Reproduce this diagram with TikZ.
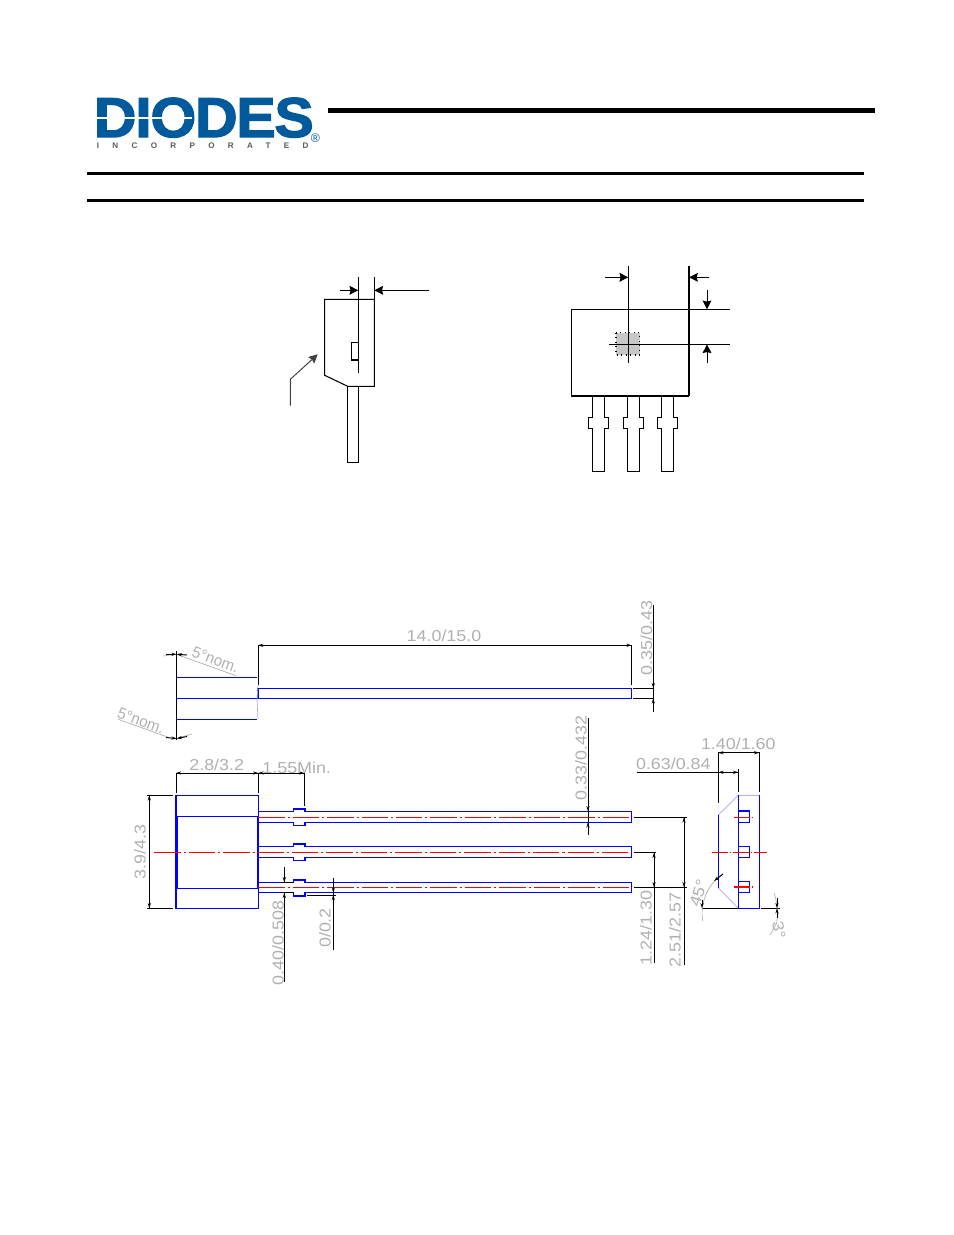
\documentclass[tikz,border=0pt]{standalone}
\usepackage{fontspec}
\setmainfont{Liberation Sans}
\newfontfamily\logofont{Liberation Sans}[BoldFeatures={FakeBold=2.2,LetterSpace=-2.2}]
\usetikzlibrary{arrows.meta}
\definecolor{logoblue}{HTML}{005A9C}
\definecolor{dimgray}{HTML}{B0B0B0}
\definecolor{chamfer}{HTML}{B4B4F0}
\tikzset{
  part/.style={draw=black,line width=0.6pt},
  big/.style={line width=0.55pt,-{Stealth[length=5pt,width=5pt,inset=0.6pt]}},
  wire/.style={blue,line width=0.6pt},
  axis/.style={red,line width=0.6pt,dash pattern=on 15pt off 1.7pt on 1.2pt off 1.7pt},
  shortaxis/.style={axis,dash pattern=on 9pt off 1pt on 1pt off 1pt},
  dimline/.style={black,line width=0.55pt},
  dimtip/.style={black,line width=0.55pt,-{Stealth[length=3pt,width=1.8pt]}},
  note/.style={dimgray,line width=0.4pt},
  dimtext/.style={text=dimgray,font=\fontsize{9}{9}\selectfont,inner sep=0pt,xscale=1.13},
}
\begin{document}
\begin{tikzpicture}[x=0.02cm,y=-0.02cm,line join=miter]
\useasboundingbox (0,0) rectangle (954,1235);
% header
\node[text=logoblue,font=\fontsize{32}{32}\selectfont\logofont\bfseries,inner sep=0pt,anchor=base west,xscale=1.05] (logo) at (93.5,137) {DIODES};
\fill[white] (96,117.3) rectangle (192,119.2);
\node[text=black!65,font=\fontsize{4.6}{4.6}\selectfont\bfseries\addfontfeature{LetterSpace=165},inner sep=0pt,anchor=base west] (sub) at (96.5,148) {INCORPORATED};
\node[text=logoblue,font=\fontsize{7}{7}\selectfont,inner sep=0pt] (reg) at (315.5,138.5) {®};
\draw[line width=2.9pt] (328,110.5)--(875,110.5);
\draw[line width=1.7pt] (87,173.5)--(864,173.5);
\draw[line width=1.7pt] (87,200)--(864,200);
% side view
\draw[part] (324.7,299.3)--(374.3,299.3)--(374.3,386.3)--(347.7,386.3)--(324.7,375.3)--cycle;
\draw[part] (347.7,386.3) rectangle (358.3,462.3);
\draw[part] (351.3,342.7) rectangle (358.3,360);
\draw[part] (358.3,276.7)--(358.3,373.3);
\draw[part] (374.3,276.7)--(374.3,299.3);
\draw[big] (340,290.3)--(358.3,290.3);
\draw[big] (429,290.3)--(374.3,290.3);
\draw[big,black!75] (290.3,405.7)--(290.3,379.3)--(317.7,354.3);
% marking view
\fill[black!22] (616,332.7) rectangle (639.7,355);
\draw[line width=0.6pt,dotted] (616,332.7) rectangle (639.7,355);
\draw[part] (571.3,309.3) rectangle (689,395.7);
\draw[line width=1.2pt] (571.3,395.7)--(689,395.7);
\foreach \lx in {592.3,627.3,661.3}
  \draw[part] (\lx,395.7)--(\lx,417.3)--(\lx-4,417.3)--(\lx-4,428.7)--(\lx,428.7)--(\lx,471.3)
    --(\lx+12,471.3)--(\lx+12,428.7)--(\lx+16.3,428.7)--(\lx+16.3,417.3)--(\lx+12,417.3)--(\lx+12,395.7);
\draw[part] (628.3,266)--(628.3,363.3);
\draw[part] (689,266)--(689,309.3)--(730,309.3);
\draw[part] (609.3,344.3)--(730,344.3);
\draw[big] (605,277.3)--(628.3,277.3);
\draw[big] (709,277.3)--(689,277.3);
\draw[big] (707,290)--(707,309.3);
\draw[big] (707,363.3)--(707,344.3);
% top view
\draw[wire] (176.7,677.3)--(256.7,677.3) (176.7,698.3)--(258,698.3) (176.7,719.3)--(256.7,719.3);
\draw[wire] (258,688.3) rectangle (631.7,698.3);
\draw[note] (258,685)--(257,700)--(258,719);
\draw[dimline] (176.7,651)--(176.7,740);
\draw[dimline] (258,685)--(258,645.3)--(631.7,645.3)--(631.7,685);
\draw[dimtip] (270,645.3)--(258,645.3);
\draw[dimtip] (620,645.3)--(631.7,645.3);
\draw[note] (163.3,656)--(175,654.3) (178.3,655)--(236,675.7) (118.3,719.3)--(168.3,737.3) (178,738)--(192,734);
\draw[dimtip] (166,654.3)--(176.7,654.3);
\draw[dimtip] (187,655)--(176.7,654.3);
\draw[dimtip] (166,737.5)--(176.7,738.5);
\draw[dimtip] (187,736.5)--(176.7,738.5);
\node[rotate=-20,dimtext,xscale=0.85] at (215.5,660) {5°nom.};
\node[rotate=-20,dimtext,xscale=0.85] at (141,721) {5°nom.};
\node[dimtext] at (444,636) {14.0/15.0};
\draw[dimline] (653.3,605)--(653.3,711.7);
\draw[dimline] (633.3,688.3)--(654,688.3) (633.3,698.3)--(654,698.3);
\draw[dimtip] (653.3,680)--(653.3,688.3);
\draw[dimtip] (653.3,706)--(653.3,698.3);
\node[rotate=90,dimtext] at (646.5,638) {0.35/0.43};
% main view
\draw[wire] (176,795.3) rectangle (258.3,908.3);
\draw[wire,line width=0.9pt] (177.3,816.3) rectangle (257.7,888.3);
\foreach \ly/\lw in {811.3/11,846.3/11,882.3/10.4}
  \draw[wire] (258.3,\ly)--(293.7,\ly)--(293.7,\ly-2.3)--(305,\ly-2.3)--(305,\ly)--(631.7,\ly)--(631.7,\ly+\lw)
    --(305,\ly+\lw)--(305,\ly+\lw+3.3)--(293.7,\ly+\lw+3.3)--(293.7,\ly+\lw)--(258.3,\ly+\lw);
\draw[axis] (258.3,817.7)--(631.7,817.7);
\draw[axis] (154.3,852.3)--(631.7,852.3);
\draw[axis] (258.3,887.3)--(631.7,887.3);
% main view dimensions
\draw[dimline] (176,792.7)--(176,773)--(304.3,773)--(304.3,806);
\draw[dimline] (258.3,773)--(258.3,793);
\draw[dimtip] (186,773)--(176,773);
\draw[dimtip] (248,773)--(258.3,773);
\draw[dimtip] (268,773)--(258.3,773);
\draw[dimtip] (294,773)--(304.3,773);
\node[dimtext] at (216.7,764.5) {2.8/3.2};
\node[dimtext] at (296.7,768) {1.55Min.};
\draw[dimline] (173.3,795.3)--(146.7,795.3) (173.3,908.3)--(146.7,908.3);
\draw[dimline] (149.3,795.3)--(149.3,908.3);
\draw[dimtip] (149.3,806)--(149.3,795.3);
\draw[dimtip] (149.3,898)--(149.3,908.3);
\node[rotate=90,dimtext] at (140,851.7) {3.9/4.3};
\draw[dimline] (284.3,867.3)--(284.3,882.3) (284.3,892.7)--(284.3,981.7);
\draw[dimline] (281,882.3)--(293.7,882.3) (281,892.7)--(293.7,892.7);
\draw[dimtip] (284.3,875)--(284.3,882.3);
\draw[dimtip] (284.3,900)--(284.3,892.7);
\node[rotate=90,dimtext] at (278,943) {0.40/0.508};
\draw[dimline] (333.3,878)--(333.3,950);
\draw[dimline] (306.7,895)--(336,895);
\draw[dimtip] (333.3,886)--(333.3,892.7);
\draw[dimtip] (333.3,902)--(333.3,895);
\node[rotate=90,dimtext] at (325,928) {0/0.2};
\draw[dimline] (588,718)--(588,835);
\draw[dimtip] (588,803)--(588,811.3);
\draw[dimtip] (588,830)--(588,822.3);
\node[rotate=90,dimtext] at (581,758) {0.33/0.432};
\draw[dimline] (634,852.7)--(656,852.7) (634,887.3)--(686.7,887.3) (634,817.3)--(686.7,817.3);
\draw[dimline] (654,852.7)--(654,963.3);
\draw[dimline] (684,817.3)--(684,965);
\draw[dimtip] (654,862)--(654,852.7);
\draw[dimtip] (654,878)--(654,887.3);
\draw[dimtip] (684,827)--(684,817.3);
\draw[dimtip] (684,878)--(684,887.3);
\node[rotate=90,dimtext] at (646,928) {1.24/1.30};
\node[rotate=90,dimtext] at (675,930) {2.51/2.57};
% section view
\draw[chamfer,line width=0.5pt] (718.3,815)--(738.3,795.3)--(759.3,795.3) (718.3,887.7)--(738.3,908.3);
\draw[wire] (718.3,815)--(718.3,887.7);
\draw[wire] (738.3,795.3)--(738.3,908.3)--(759.3,908.3)--(759.3,795.3);
\foreach \py in {811,846.3,881.7}
  \draw[wire] (738.3,\py)--(749.3,\py)--(749.3,\py+11.2)--(738.3,\py+11.2);
\draw[shortaxis] (734,817.3)--(754.3,817.3);
\draw[axis,dash pattern=on 9pt off 1pt on 1pt off 1pt] (712,852.7)--(766.7,852.7);
\draw[shortaxis] (734,887)--(751.7,887);
\draw[dimline] (718.3,803)--(718.3,752.7)--(759.3,752.7)--(759.3,791.7);
\draw[dimtip] (728,752.7)--(718.3,752.7);
\draw[dimtip] (749,752.7)--(759.3,752.7);
\node[dimtext] at (738.3,744.3) {1.40/1.60};
\draw[dimline] (637.3,772.3)--(738.3,772.3) (738.3,769.3)--(738.3,791.7);
\draw[dimtip] (728,772.3)--(718.3,772.3);
\draw[dimtip] (728,772.3)--(738.3,772.3);
\node[dimtext] at (673.3,764) {0.63/0.84};
\draw[dimline] (701.7,908.3)--(738.3,908.3);
\draw[dimline] (760.7,908.3)--(780,908.3);
\draw[note] (702.7,921) .. controls (700,905) and (706,885) .. (723,874);
\draw[dimtip] (723,874)--(714,881);
\draw[dimtip] (702,900)--(702,908.3);
\node[rotate=72,dimtext] at (698.3,893) {45°};
\draw[note] (774,893) .. controls (777,900) and (778,915) .. (776.7,923)--(770,935);
\draw[dimtip] (777,898)--(777,908.3);
\draw[dimtip] (777,918)--(777,908.3);
\node[rotate=-80,dimtext] at (779,930) {3°};
\end{tikzpicture}
\end{document}
